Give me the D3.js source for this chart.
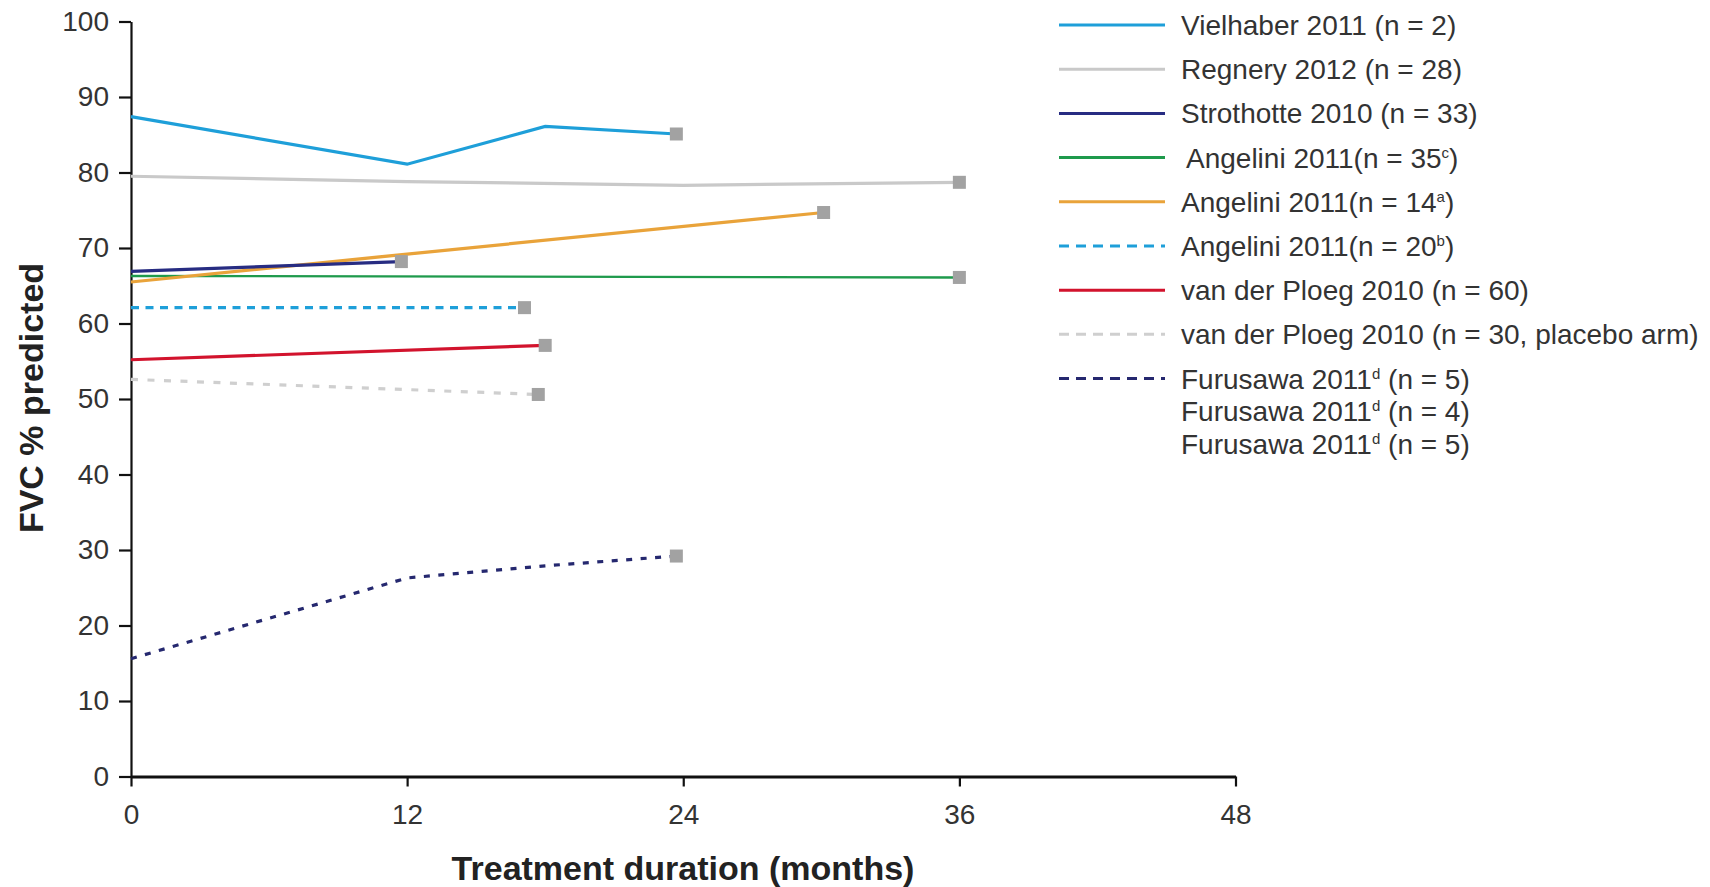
<html>
<head>
<script src="https://d3js.org/d3.v7.min.js"></script>
<style>
  body { margin: 0; background: #fff; }
  text { font-family: "Liberation Sans", Arial, sans-serif; }
</style>
</head>
<body>
<script>
// data
const seriesNames = [
  "Vielhaber 2011 (n = 2)",
  "Regnery 2012 (n = 28)",
  "Strothotte 2010 (n = 33)",
  " Angelini 2011(n = 35^c)",
  "Angelini 2011(n = 14^a)",
  "Angelini 2011(n = 20^b)",
  "van der Ploeg 2010 (n = 60)",
  "van der Ploeg 2010 (n = 30, placebo arm)",
  "Furusawa 2011^d (n = 5)"
];
const extraLegendLines = ["Furusawa 2011^d (n = 4)", "Furusawa 2011^d (n = 5)"];
const seriesMonths = [
  [0, 12, 18, 23.7],
  [0, 12, 24, 36],
  [0, 11.75],
  [0, 36],
  [0, 12, 30.1],
  [0, 17.1],
  [0, 18],
  [0, 17.7],
  [0, 12, 18, 23.7]
];
const seriesValues = [
  [87.4, 81.1, 86.1, 85.1],
  [79.5, 78.8, 78.3, 78.7],
  [66.9, 68.2],
  [66.3, 66.1],
  [65.5, 69.2, 74.7],
  [62.1, 62.1],
  [55.2, 57.1],
  [52.6, 50.6],
  [15.6, 26.3, 27.9, 29.2]
];
const seriesColors = ["#1e9fd9", "#c9c9c9", "#272c82", "#1e9a4c", "#e9a33a", "#1e9fd9", "#d2132d", "#cfcfcf", "#25286f"];
const seriesDash = [null, null, null, null, null, "8,6.5", null, "7,9.5", "6,8.5"];
const drawOrder = [1, 3, 4, 2, 0, 5, 6, 7, 8];
const yTicks = [0, 10, 20, 30, 40, 50, 60, 70, 80, 90, 100];
const xTicks = [0, 12, 24, 36, 48];

const width = 1710, height = 887;
const svg = d3.select("body").append("svg")
  .attr("width", width)
  .attr("height", height);

const x = d3.scaleLinear().domain([0, 48]).range([131, 1235.5]);
const y = d3.scaleLinear().domain([0, 100]).range([776.5, 21.5]);

// y axis
const yAxis = svg.append("g")
  .attr("transform", `translate(${x(0)},0)`)
  .call(d3.axisLeft(y).tickValues(yTicks).tickSize(12).tickPadding(10).tickSizeOuter(0));
yAxis.select(".domain").attr("stroke", "#111").attr("stroke-width", 2.2);
yAxis.selectAll(".tick line").attr("stroke", "#111").attr("stroke-width", 2.2);
yAxis.selectAll(".tick text")
  .attr("font-size", 28)
  .attr("font-family", "Liberation Sans, Arial, sans-serif")
  .attr("fill", "#333");

// x axis
const xAxis = svg.append("g")
  .attr("transform", `translate(0,${y(0)})`)
  .call(d3.axisBottom(x).tickValues(xTicks).tickSize(10).tickPadding(18).tickSizeOuter(0));
xAxis.select(".domain").attr("stroke", "#111").attr("stroke-width", 2.8);
xAxis.selectAll(".tick line").attr("stroke", "#111").attr("stroke-width", 2.2);
xAxis.selectAll(".tick text")
  .attr("font-size", 28)
  .attr("font-family", "Liberation Sans, Arial, sans-serif")
  .attr("fill", "#333");

// axis titles
svg.append("text")
  .attr("x", 683)
  .attr("y", 880)
  .attr("text-anchor", "middle")
  .attr("font-size", 34)
  .attr("font-weight", "bold")
  .attr("fill", "#222")
  .text("Treatment duration (months)");

svg.append("text")
  .attr("transform", "translate(43,398) rotate(-90)")
  .attr("text-anchor", "middle")
  .attr("font-size", 34)
  .attr("font-weight", "bold")
  .attr("fill", "#222")
  .text("FVC % predicted");

// lines
const line = d3.line()
  .x(d => x(d[0]))
  .y(d => y(d[1]));

drawOrder.forEach(i => {
  const pts = seriesMonths[i].map((m, j) => [m, seriesValues[i][j]]);
  svg.append("path")
    .datum(pts)
    .attr("d", line)
    .attr("fill", "none")
    .attr("stroke", seriesColors[i])
    .attr("stroke-width", i === 3 ? 2.4 : 3.2)
    .attr("stroke-dasharray", seriesDash[i]);
});

// end markers
const ends = seriesMonths.map((m, i) => [m[m.length - 1], seriesValues[i][seriesValues[i].length - 1]]);
svg.selectAll(".endmark")
  .data(ends)
  .join("rect")
  .attr("class", "endmark")
  .attr("x", d => x(d[0]) - 6.5)
  .attr("y", d => y(d[1]) - 6.5)
  .attr("width", 13)
  .attr("height", 13)
  .attr("fill", "#a2a2a2");

// legend
function addLabel(sel, label) {
  const parts = label.split(/\^(\w)/);
  parts.forEach((p, k) => {
    if (k % 2 === 1) {
      sel.append("tspan").attr("dy", -10).attr("font-size", 15).text(p);
    } else if (k > 0) {
      sel.append("tspan").attr("dy", 10).text(p);
    } else {
      sel.append("tspan").text(p);
    }
  });
}

const legendY = d3.scaleLinear().domain([0, 8]).range([25, 378.5]);
const legend = svg.append("g");
seriesNames.forEach((name, i) => {
  const ly = legendY(i);
  legend.append("line")
    .attr("x1", 1059).attr("x2", 1165)
    .attr("y1", ly).attr("y2", ly)
    .attr("stroke", seriesColors[i])
    .attr("stroke-width", 3)
    .attr("stroke-dasharray", seriesDash[i] ? "10,7" : null);
  const t = legend.append("text")
    .attr("x", name.startsWith(" ") ? 1186 : 1181)
    .attr("y", ly + 10)
    .attr("font-size", 28)
    .attr("fill", "#333");
  addLabel(t, name.trim());
});
extraLegendLines.forEach((name, k) => {
  const t = legend.append("text")
    .attr("x", 1181)
    .attr("y", legendY(8) + 32.7 * (k + 1) + 10)
    .attr("font-size", 28)
    .attr("fill", "#333");
  addLabel(t, name);
});
</script>
</body>
</html>
